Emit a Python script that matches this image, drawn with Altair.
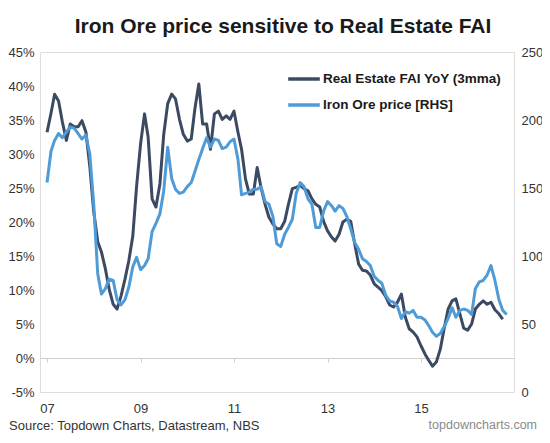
import altair as alt
import pandas as pd

# Monthly observations, Jan 2007 onwards
fai_yoy = [33.2, 36.0, 38.8, 37.8, 34.7, 32.0, 34.4, 34.0, 34.0, 34.9, 33.2, 28.2,
           21.5, 17.1, 15.6, 13.1, 10.1, 7.9, 7.2, 9.1, 11.6, 14.3, 17.9, 25.3,
           31.5, 35.9, 32.5, 23.4, 22.2, 25.6, 32.9, 37.4, 38.8, 38.1, 35.1, 32.9,
           31.9, 32.2, 36.6, 40.3, 34.4, 34.4, 30.7, 35.9, 36.3, 35.1, 35.6, 35.1,
           36.3, 33.2, 30.7, 26.3, 24.1, 24.1, 28.0, 25.0, 22.6, 20.7, 19.7, 19.0,
           19.0, 20.1, 22.6, 24.9, 25.1, 25.4, 24.9, 24.6, 23.4, 22.6, 22.2, 20.1,
           18.7, 17.8, 17.2, 18.2, 20.0, 20.4, 20.1, 16.8, 13.8, 12.9, 12.8, 12.2,
           10.9, 10.4, 9.9, 9.0, 7.8, 7.5, 8.2, 9.4, 6.0, 4.3, 3.8, 3.1,
           1.8, 0.6, -0.3, -1.2, -0.6, 1.3, 4.3, 7.2, 8.4, 8.7, 6.5, 4.4,
           4.1, 5.0, 7.2, 7.9, 8.4, 7.9, 8.2, 7.1, 6.5, 5.7]

iron_ore = [154, 177, 185, 190, 187, 191, 195, 194, 190, 186, 189, 175,
            138, 87, 72, 76, 83, 82, 68, 64, 68, 77, 92, 99,
            90, 93, 98, 118, 124, 131, 148, 180, 157, 149, 146, 147,
            151, 154, 162, 171, 179, 187, 180, 186, 185, 179, 180, 184,
            186, 171, 145, 146, 147, 149, 149, 151, 140, 138, 129, 109,
            107, 116, 121, 127, 146, 154, 151, 142, 138, 121, 121, 133,
            140, 137, 133, 137, 135, 129, 120, 110, 105, 98, 96, 93,
            85, 82, 80, 71, 67, 66, 63, 54, 59, 58, 60, 55,
            55, 53, 49, 44, 41, 43, 48, 54, 62, 55, 60, 61,
            60, 57, 76, 81, 82, 86, 93, 82, 68, 60, 57]

series_names = ["Real Estate FAI YoY (3mma)", "Iron Ore price [RHS]"]
series_colors = ["#3b4a62", "#4f9bd8"]
left_ticks = [-5, 0, 5, 10, 15, 20, 25, 30, 35, 40, 45]
right_ticks = [0, 50, 100, 150, 200, 250]
x_tick_years = ["2007-01-01", "2009-01-01", "2011-01-01", "2013-01-01", "2015-01-01"]

fai_df = pd.DataFrame({
    "date": pd.date_range("2007-01-01", periods=len(fai_yoy), freq="MS"),
    "value": fai_yoy,
    "series": series_names[0],
})
ore_df = pd.DataFrame({
    "date": pd.date_range("2007-01-01", periods=len(iron_ore), freq="MS"),
    "value": iron_ore,
    "series": series_names[1],
})

FONT = "Liberation Sans"

x_enc = alt.X(
    "date:T",
    scale=alt.Scale(domain=["2006-11-07", "2016-12-28"]),
    axis=alt.Axis(
        title=None, format="%y", values=x_tick_years, grid=False,
        domainColor="#cfcfcf", domainWidth=1.2, tickColor="#cfcfcf", tickSize=4,
        offset=-34, labelPadding=40, labelFont=FONT, labelFontSize=13,
        labelColor="#333333",
    ),
)

color_enc = alt.Color(
    "series:N",
    scale=alt.Scale(domain=series_names, range=series_colors),
    legend=alt.Legend(
        title=None, orient="none", legendX=246, legendY=9, direction="vertical",
        symbolType="stroke", symbolSize=1000, symbolStrokeWidth=3.5,
        labelFont=FONT, labelFontSize=13.5, labelFontWeight="bold",
        labelColor="#1a1a1a", labelOffset=1, rowPadding=1, padding=0,
        labelLimit=300,
    ),
)

fai_line = alt.Chart(fai_df).mark_line(strokeWidth=3, strokeJoin="round").encode(
    x=x_enc,
    y=alt.Y(
        "value:Q",
        scale=alt.Scale(domain=[-5, 45], nice=False, zero=False),
        axis=alt.Axis(
            title=None, orient="left", values=left_ticks, grid=False,
            domain=False, ticks=False, labelExpr="datum.value + '%'",
            labelPadding=6, labelFont=FONT, labelFontSize=13, labelColor="#333333",
        ),
    ),
    color=color_enc,
)

ore_line = alt.Chart(ore_df).mark_line(strokeWidth=3, strokeJoin="round").encode(
    x=x_enc,
    y=alt.Y(
        "value:Q",
        scale=alt.Scale(domain=[0, 250], nice=False),
        axis=alt.Axis(
            title=None, orient="right", values=right_ticks, grid=False,
            domain=False, ticks=False, labelPadding=7, labelFont=FONT,
            labelFontSize=13, labelColor="#333333",
        ),
    ),
    color=color_enc,
)

footer_df = pd.DataFrame({"k": [0]})
source_text = alt.Chart(footer_df).mark_text(
    text="Source: Topdown Charts, Datastream, NBS", align="left", baseline="middle",
    font=FONT, fontSize=13, color="#333333",
).encode(x=alt.value(-31), y=alt.value(374))
site_text = alt.Chart(footer_df).mark_text(
    text="topdowncharts.com", align="right", baseline="middle",
    font=FONT, fontSize=12.5, color="#8a8a8a",
).encode(x=alt.value(497), y=alt.value(373))

chart = alt.layer(fai_line, ore_line, source_text, site_text).resolve_scale(
    y="independent"
).properties(
    width=474, height=340,
    title=alt.TitleParams(
        "Iron Ore price sensitive to Real Estate FAI", font=FONT, fontSize=21,
        fontWeight="bold", color="#1a1a1a", anchor="middle", dx=6, offset=9,
    ),
    padding={"left": 32, "top": 44, "right": 28, "bottom": 43},
    autosize=alt.AutoSizeParams(type="none"),
).configure_view(stroke=None).configure(background="white")

chart.save("out.html", embed_options={"renderer": "svg", "actions": False})
